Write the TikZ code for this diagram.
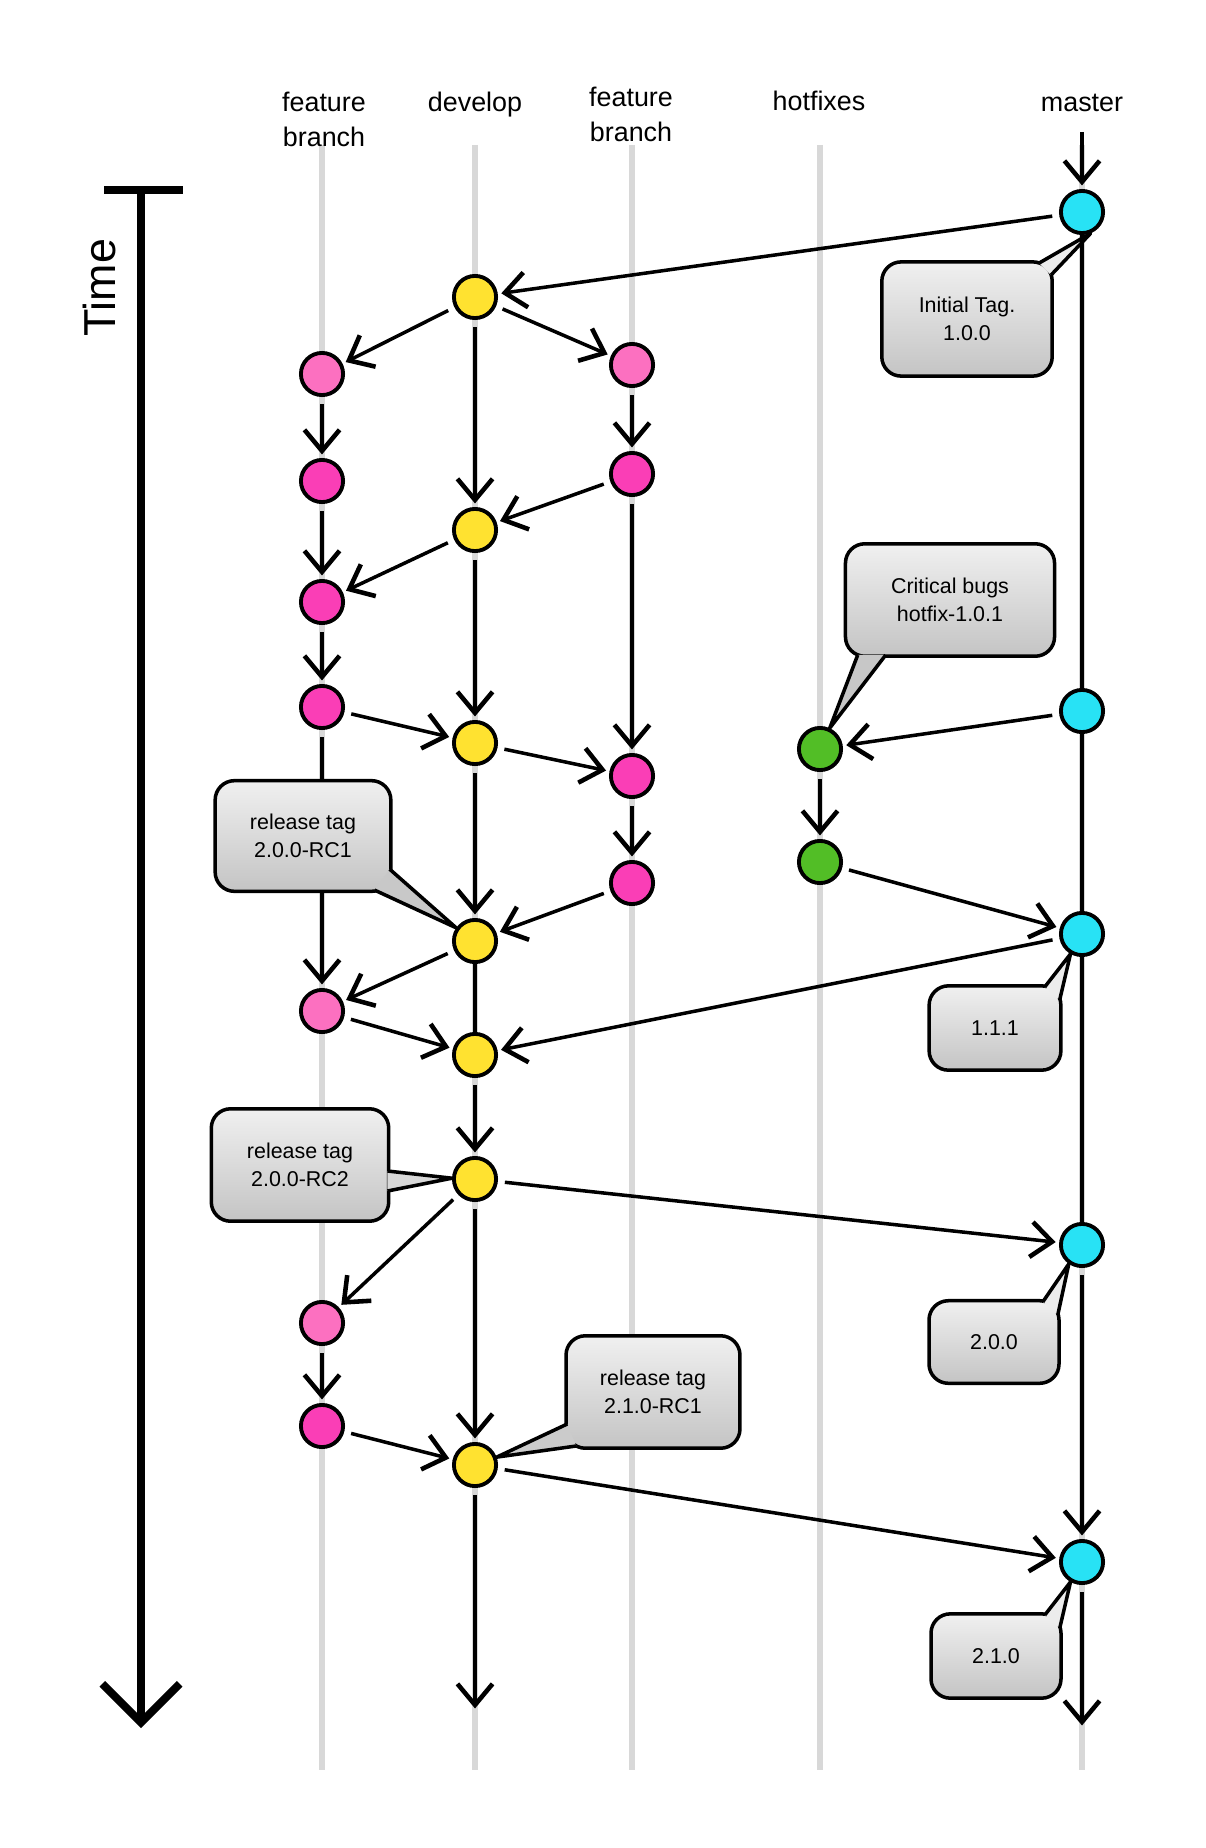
\documentclass[tikz,border=0pt]{standalone}
\usepackage{fontspec}
\setmainfont{Liberation Sans}
\usetikzlibrary{arrows.meta,calc}

\definecolor{featlight}{RGB}{252,112,192}
\definecolor{featdark}{RGB}{250,62,182}
\definecolor{devyellow}{RGB}{255,226,48}
\definecolor{mastercyan}{RGB}{40,226,245}
\definecolor{hotgreen}{RGB}{82,190,38}
\definecolor{lanegray}{RGB}{216,216,216}
\definecolor{tagtop}{RGB}{240,240,240}
\definecolor{tagbottom}{RGB}{196,196,196}

\newcommand{\tagtail}[4]{%
	\fill[#4] #1 -- #2 -- #3 -- cycle;
	\draw[tagline] #1 -- #2 -- #3;}

\begin{document}
\begin{tikzpicture}[x=0.02cm, y=-0.02cm, line width=2pt,
	commit/.style={circle, draw, line width=2.2pt, minimum size=24pt, inner sep=0pt},
	lane/.style={lanegray, line width=3.4pt},
	flow/.style={-{Straight Barb[length=12pt,width=20pt,line width=2.6pt]}, shorten <=4pt, shorten >=2pt},
	branchlabel/.style={align=center, font=\fontsize{15.3}{20}\selectfont},
	tagbox/.style={draw, line width=2pt, rounded corners=11pt, top color=tagtop, bottom color=tagbottom, align=center, font=\fontsize{12.2}{16}\selectfont, inner sep=0pt},
	tagline/.style={line width=2pt, line join=round}]
		\useasboundingbox (0,0) rectangle (1206,1848);
		\foreach \x in {322,475,632,820,1082}
			\draw[lane] (\x,145) -- (\x,1770);

		\node[branchlabel] (lfeatA) at (324,119) {feature\\branch};
		\node[branchlabel, anchor=base] (ldev) at (475,112) {develop};
		\node[branchlabel] (lfeatB) at (631,114) {feature\\branch};
		\node[branchlabel, anchor=base] (lhot) at (819,111) {hotfixes};
		\node[branchlabel, anchor=base] (lmaster) at (1082,112) {master};

		\node[rotate=90, font=\fontsize{25.5}{30}\selectfont] (timelabel) at (99,288) {Time};
		\draw[line width=5pt] (104,190) -- (183,190);
		\coordinate (timetop) at (141,192);
		\coordinate (timeend) at (141,1728);
		\draw[line width=4pt, -{Straight Barb[length=22pt,width=44pt,line width=4.5pt]}] (timetop) -- (timeend);

		\node[commit, fill=mastercyan] (m1) at (1082,212) {};
		\node[commit, fill=devyellow] (d1) at (475,297) {};
		\node[commit, fill=featlight] (fa1) at (322,374) {};
		\node[commit, fill=featlight] (fb1) at (632,365) {};
		\node[commit, fill=featdark] (fa2) at (322,481) {};
		\node[commit, fill=featdark] (fb2) at (632,474) {};
		\node[commit, fill=devyellow] (d2) at (475,530) {};
		\node[commit, fill=featdark] (fa3) at (322,602) {};
		\node[commit, fill=featdark] (fa4) at (322,707) {};
		\node[commit, fill=mastercyan] (m2) at (1082,711) {};
		\node[commit, fill=devyellow] (d3) at (475,743) {};
		\node[commit, fill=hotgreen] (h1) at (820,749) {};
		\node[commit, fill=featdark] (fb3) at (632,776) {};
		\node[commit, fill=hotgreen] (h2) at (820,862) {};
		\node[commit, fill=featdark] (fb4) at (632,883) {};
		\node[commit, fill=devyellow] (d4) at (475,941) {};
		\node[commit, fill=mastercyan] (m3) at (1082,934) {};
		\node[commit, fill=featlight] (fa5) at (322,1011) {};
		\node[commit, fill=devyellow] (d5) at (475,1055) {};
		\node[commit, fill=devyellow] (d6) at (475,1179) {};
		\node[commit, fill=mastercyan] (m4) at (1082,1245) {};
		\node[commit, fill=featlight] (fa6) at (322,1323) {};
		\node[commit, fill=featdark] (fa7) at (322,1426) {};
		\node[commit, fill=devyellow] (d7) at (475,1465) {};
		\node[commit, fill=mastercyan] (m5) at (1082,1562) {};
		\coordinate (mstart) at (1082,132);
		\coordinate (devend) at (475,1712);
		\coordinate (masterend) at (1082,1729);

		\draw[flow, shorten <=0pt] (mstart) -- (m1);
		\draw[flow] (m1) -- (d1);
		\draw[flow] (d1) -- (fa1);
		\draw[flow] (d1) -- (fb1);
		\draw[flow] (d1) -- (d2);
		\draw[flow] (fa1) -- (fa2);
		\draw[flow] (fa2) -- (fa3);
		\draw[flow] (fa3) -- (fa4);
		\draw[flow] (fb1) -- (fb2);
		\draw[flow] (fb2) -- (d2);
		\draw[flow] (d2) -- (fa3);
		\draw[flow] (d2) -- (d3);
		\draw[flow] (fa4) -- (d3);
		\draw[flow] (fb2) -- (fb3);
		\draw[flow] (d3) -- (fb3);
		\draw[flow] (fb3) -- (fb4);
		\draw[flow] (fb4) -- (d4);
		\draw[flow] (d3) -- (d4);
		\draw[flow] (fa4) -- (fa5);
		\draw[flow] (d4) -- (fa5);
		\draw (d4) -- (d5);
		\draw[flow] (fa5) -- (d5);
		\draw[flow] (m3) -- (d5);
		\draw[flow] (d5) -- (d6);
		\draw[flow] (d6) -- (m4);
		\draw[flow] (d6) -- (fa6);
		\draw[flow] (fa6) -- (fa7);
		\draw[flow] (fa7) -- (d7);
		\draw[flow] (d6) -- (d7);
		\draw[flow] (d7) -- (m5);
		\draw[flow] (d7) -- (devend);
		\draw (m1) -- (m2);
		\draw[flow] (m2) -- (h1);
		\draw[flow] (h1) -- (h2);
		\draw[flow] (h2) -- (m3);
		\draw (m2) -- (m3);
		\draw (m3) -- (m4);
		\draw[flow] (m4) -- (m5);
		\draw[flow] (m5) -- (masterend);

		\node[tagbox, minimum width=97pt, minimum height=65pt] (tag1) at (967,319) {Initial Tag.\\1.0.0};
		\tagtail{($(tag1.north east)+(-15,3)$)}{(m1.-68)}{($(tag1.north east)+(-3,15)$)}{tagtop!92!tagbottom}
		\node[tagbox, minimum width=119pt, minimum height=64pt] (tag2) at (950,600) {Critical bugs\\hotfix-1.0.1};
		\tagtail{($(tag2.south west)+(14,-3)$)}{(h1.65)}{($(tag2.south west)+(42,-3)$)}{tagbottom!92!tagtop}
		\node[tagbox, minimum width=100pt, minimum height=63pt] (tag3) at (303,836) {release tag\\2.0.0-RC1};
		\tagtail{($(tag3.south east)+(-3,-24)$)}{(d4.145)}{($(tag3.south east)+(-18,-3)$)}{tagbottom!90!tagtop}
		\node[tagbox, minimum width=75pt, minimum height=48pt] (tag4) at (995,1028) {1.1.1};
		\tagtail{($(tag4.north east)+(-18,3)$)}{(m3.-120)}{($(tag4.north east)+(-3,16)$)}{tagtop!92!tagbottom}
		\node[tagbox, minimum width=101pt, minimum height=64pt] (tag5) at (300,1165) {release tag\\2.0.0-RC2};
		\tagtail{($(tag5.east)+(-3,6)$)}{(d6.178)}{($(tag5.east)+(-3,26)$)}{tagtop!45!tagbottom}
		\node[tagbox, minimum width=74pt, minimum height=47pt] (tag6) at (994,1342) {2.0.0};
		\tagtail{($(tag6.north east)+(-18,3)$)}{(m4.-125)}{($(tag6.north east)+(-3,16)$)}{tagtop!92!tagbottom}
		\node[tagbox, minimum width=99pt, minimum height=64pt] (tag7) at (653,1392) {release tag\\2.1.0-RC1};
		\tagtail{($(tag7.south west)+(3,-26)$)}{(d7.20)}{($(tag7.south west)+(12,-4)$)}{tagbottom!85!tagtop}
		\node[tagbox, minimum width=74pt, minimum height=48pt] (tag8) at (996,1656) {2.1.0};
		\tagtail{($(tag8.north east)+(-18,3)$)}{(m5.-120)}{($(tag8.north east)+(-3,16)$)}{tagtop!92!tagbottom}
\end{tikzpicture}
\end{document}
